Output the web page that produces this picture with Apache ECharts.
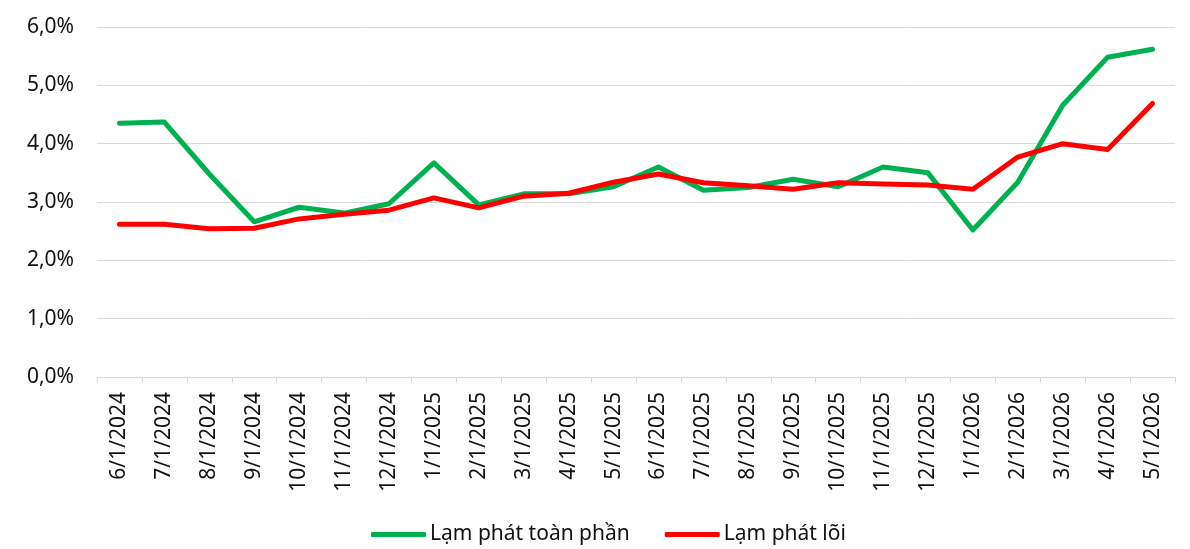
<!DOCTYPE html>
<html>
<head>
<meta charset="utf-8">
<script src="https://cdn.jsdelivr.net/npm/echarts@6/dist/echarts.min.js"></script>
<style>
  html, body { margin: 0; padding: 0; background: #fff; }
  #main { width: 1190px; height: 549px; }
</style>
</head>
<body>
<div id="main"></div>
<script>
// danh mục tháng
const months = ['6/1/2024', '7/1/2024', '8/1/2024', '9/1/2024', '10/1/2024', '11/1/2024', '12/1/2024',
  '1/1/2025', '2/1/2025', '3/1/2025', '4/1/2025', '5/1/2025', '6/1/2025', '7/1/2025', '8/1/2025',
  '9/1/2025', '10/1/2025', '11/1/2025', '12/1/2025', '1/1/2026', '2/1/2026', '3/1/2026', '4/1/2026', '5/1/2026'];

// lạm phát toàn phần (%)
const headline = [4.35, 4.37, 3.48, 2.66, 2.91, 2.81, 2.97, 3.67, 2.95, 3.14, 3.14, 3.26,
  3.60, 3.20, 3.25, 3.39, 3.26, 3.60, 3.50, 2.52, 3.34, 4.66, 5.48, 5.62];

// lạm phát lõi (%)
const core = [2.62, 2.62, 2.54, 2.55, 2.71, 2.79, 2.86, 3.07, 2.90, 3.10, 3.15, 3.34,
  3.48, 3.33, 3.28, 3.22, 3.33, 3.31, 3.29, 3.22, 3.77, 4.00, 3.90, 4.69];

const seriesNames = ['Lạm phát toàn phần', 'Lạm phát lõi'];

const FONT = '"Noto Sans", sans-serif';

const myChart = echarts.init(document.getElementById('main'));
const option = {
  backgroundColor: '#fff',
  animation: false,
  grid: { left: 97, right: 15, top: 27, bottom: 172 },
  legend: {
    data: seriesNames,
    top: 519,
    left: 366,
    icon: 'roundRect',
    itemWidth: 55,
    itemHeight: 5,
    itemGap: 35,
    textStyle: { color: '#111', fontSize: 21, fontFamily: FONT, padding: [0, 0, 0, -1] }
  },
  xAxis: {
    type: 'category',
    data: months,
    boundaryGap: true,
    axisLine: { show: true, lineStyle: { color: '#d9d9d9', width: 1 } },
    axisTick: { show: true, length: 6, lineStyle: { color: '#d9d9d9' } },
    axisLabel: {
      interval: 0,
      rotate: 90,
      margin: 15,
      color: '#111',
      fontSize: 21,
      fontFamily: FONT
    }
  },
  yAxis: {
    type: 'value',
    min: 0,
    max: 6,
    interval: 1,
    axisLine: { show: false },
    axisTick: { show: false },
    splitLine: { lineStyle: { color: '#d9d9d9', width: 1 } },
    axisLabel: {
      margin: 23,
      color: '#111',
      fontSize: 21,
      fontFamily: FONT,
      formatter: v => v.toFixed(1).replace('.', ',') + '%'
    }
  },
  series: [
    {
      name: seriesNames[0],
      type: 'line',
      data: headline,
      symbol: 'none',
      color: '#00b050',
      lineStyle: { width: 5, color: '#00b050', cap: 'round', join: 'round' }
    },
    {
      name: seriesNames[1],
      type: 'line',
      data: core,
      symbol: 'none',
      color: '#ff0000',
      lineStyle: { width: 5, color: '#ff0000', cap: 'round', join: 'round' }
    }
  ]
};
myChart.setOption(option);
window.addEventListener('resize', function () {
  myChart.resize();
});
</script>
</body>
</html>
